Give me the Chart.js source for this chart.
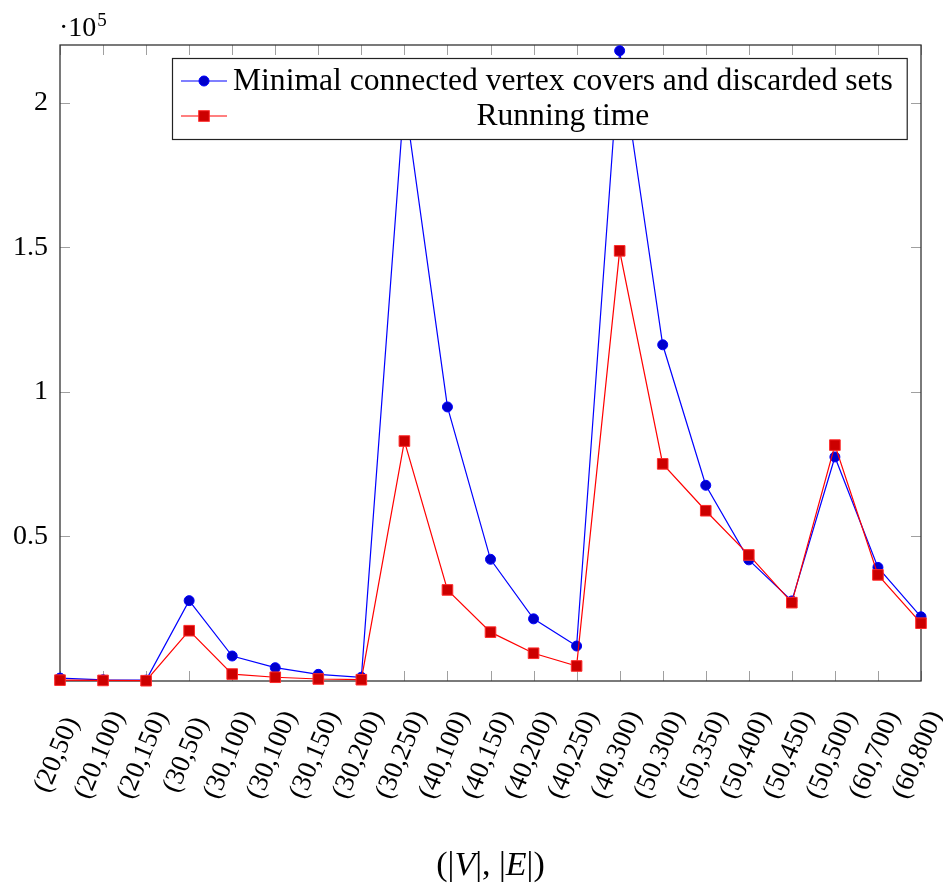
<!DOCTYPE html>
<html>
<head>
<meta charset="utf-8">
<script src="https://cdn.jsdelivr.net/npm/chart.js@4.4.1/dist/chart.umd.min.js"></script>
<style>
  html, body { margin: 0; padding: 0; background: #fff; }
  canvas { display: block; }
</style>
</head>
<body>
<canvas id="chart" width="943" height="891"></canvas>
<script>
// Graph sizes (|V|,|E|) on the horizontal axis
const categories = ['(20,50)', '(20,100)', '(20,150)', '(30,50)', '(30,100)', '(30,100)', '(30,150)',
  '(30,200)', '(30,250)', '(40,100)', '(40,150)', '(40,200)', '(40,250)', '(40,300)', '(50,300)',
  '(50,350)', '(50,400)', '(50,450)', '(50,500)', '(60,700)', '(60,800)'];

// Number of minimal connected vertex covers plus discarded sets
const coverCounts = [1000, 400, 300, 27800, 8650, 4600, 2300, 1300, 202000, 94800, 42100, 21500,
  12100, 218000, 116300, 67700, 41900, 27700, 77500, 39300, 22200];

// Running time
const runningTime = [300, 200, 100, 17400, 2400, 1300, 700, 450, 83000, 31500, 16900, 9600,
  5200, 148800, 75100, 58900, 43600, 27100, 81600, 36700, 20000];

const yTickValues = [50000, 100000, 150000, 200000];
const yTickLabels = ['0.5', '1', '1.5', '2'];
const yMax = 220000;
const seriesNames = ['Minimal connected vertex covers and discarded sets', 'Running time'];
// x-axis title pieces: [text, italic]
const axisTitleParts = [['(|', false], ['V', true], ['|, |', false], ['E', true], ['|)', false]];

const SERIF = '"Liberation Serif", "Times New Roman", serif';
const BLUE = '#0000ff', BLUE_FILL = '#0000cc';
const RED = '#ff0000', RED_FILL = '#cc0000';

function drawCircle(ctx, x, y) {
  ctx.beginPath();
  ctx.arc(x, y, 5, 0, Math.PI * 2);
  ctx.fillStyle = BLUE_FILL; ctx.fill();
  ctx.lineWidth = 1; ctx.strokeStyle = BLUE; ctx.stroke();
}
function drawSquare(ctx, x, y) {
  const h = 5.3;
  ctx.fillStyle = RED_FILL;
  ctx.fillRect(x - h, y - h, 2 * h, 2 * h);
  ctx.lineWidth = 1; ctx.strokeStyle = '#ff2a2a';
  ctx.strokeRect(x - h, y - h, 2 * h, 2 * h);
}

// Box frame with inward ticks on all four sides (drawn under the data)
const pgfFrame = {
  id: 'pgfFrame',
  beforeDatasetsDraw(chart) {
    const { ctx, chartArea: a, scales: { x, y } } = chart;
    ctx.save();
    ctx.strokeStyle = '#a0a0a0';
    ctx.lineWidth = 1;
    ctx.beginPath();
    categories.forEach((_, i) => {
      const px = Math.round(x.getPixelForValue(i)) + 0.5;
      ctx.moveTo(px, a.bottom); ctx.lineTo(px, a.bottom - 10);
      ctx.moveTo(px, a.top); ctx.lineTo(px, a.top + 10);
    });
    yTickValues.forEach(v => {
      const py = Math.round(y.getPixelForValue(v)) + 0.5;
      ctx.moveTo(a.left, py); ctx.lineTo(a.left + 10, py);
      ctx.moveTo(a.right, py); ctx.lineTo(a.right - 10, py);
    });
    ctx.stroke();
    ctx.strokeStyle = '#333';
    ctx.lineWidth = 1.3;
    ctx.strokeRect(a.left, a.top, a.right - a.left, a.bottom - a.top);
    ctx.restore();
  },
  afterDatasetsDraw(chart) {
    const { ctx, chartArea: a, scales: { x } } = chart;
    ctx.save();

    // legend box
    const legendFont = '31.6px ' + SERIF;
    ctx.font = legendFont;
    const textW = Math.max(...seriesNames.map(t => ctx.measureText(t).width));
    const boxL = 172, boxT = 58;
    const textL = boxL + 61;
    const boxR = textL + textW + 14;
    const boxB = boxT + 81;
    ctx.fillStyle = '#fff';
    ctx.fillRect(boxL, boxT, boxR - boxL, boxB - boxT);
    ctx.strokeStyle = '#222';
    ctx.lineWidth = 1.2;
    ctx.strokeRect(boxL + 0.5, boxT + 0.5, boxR - boxL, boxB - boxT);

    const rows = [boxT + 23, boxT + 58];
    const colors = [BLUE, RED];
    rows.forEach((ry, i) => {
      ctx.strokeStyle = colors[i];
      ctx.lineWidth = 1.2;
      ctx.beginPath();
      ctx.moveTo(boxL + 9, ry); ctx.lineTo(boxL + 55, ry);
      ctx.stroke();
      if (i === 0) drawCircle(ctx, boxL + 32, ry); else drawSquare(ctx, boxL + 32, ry);
      ctx.fillStyle = '#000';
      ctx.font = legendFont;
      ctx.textBaseline = 'middle';
      ctx.textAlign = 'center';
      ctx.fillText(seriesNames[i], textL + textW / 2, ry + 1);
    });

    // rotated category labels
    ctx.font = '27px ' + SERIF;
    ctx.fillStyle = '#000';
    ctx.textAlign = 'center';
    ctx.textBaseline = 'middle';
    const ang = -67 * Math.PI / 180;
    categories.forEach((lab, i) => {
      const px = x.getPixelForValue(i);
      ctx.save();
      ctx.translate(px - 3, a.bottom + 74);
      ctx.rotate(ang);
      ctx.fillText(lab, 0, 0);
      ctx.restore();
    });

    // x-axis title
    ctx.textAlign = 'left';
    ctx.textBaseline = 'alphabetic';
    const fontFor = it => (it ? 'italic ' : '') + '34px ' + SERIF;
    let total = 0;
    axisTitleParts.forEach(([t, it]) => { ctx.font = fontFor(it); total += ctx.measureText(t).width; });
    let cx = (a.left + a.right) / 2 - total / 2;
    axisTitleParts.forEach(([t, it]) => {
      ctx.font = fontFor(it);
      ctx.fillText(t, cx, 875);
      cx += ctx.measureText(t).width;
    });

    // scale factor above the y axis
    ctx.font = '28px ' + SERIF;
    ctx.fillText('\u00b710', 59, 36);
    const w = ctx.measureText('\u00b710').width;
    ctx.font = '19px ' + SERIF;
    ctx.fillText('5', 59 + w + 1, 26);
    ctx.restore();
  }
};

new Chart(document.getElementById('chart'), {
  type: 'line',
  data: {
    labels: categories,
    datasets: [
      {
        label: seriesNames[0],
        data: coverCounts,
        borderColor: BLUE,
        borderWidth: 1.2,
        pointStyle: 'circle',
        pointRadius: 5,
        pointBorderWidth: 1,
        pointBackgroundColor: BLUE_FILL,
        pointBorderColor: BLUE,
        tension: 0,
        clip: false,
        order: 1
      },
      {
        label: seriesNames[1],
        data: runningTime,
        borderColor: RED,
        borderWidth: 1.2,
        pointStyle: 'rect',
        pointRadius: 7.5,
        pointBorderWidth: 1,
        pointBackgroundColor: RED_FILL,
        pointBorderColor: '#ff2a2a',
        tension: 0,
        clip: false,
        order: 0
      }
    ]
  },
  options: {
    responsive: false,
    animation: false,
    devicePixelRatio: 1,
    layout: { autoPadding: false, padding: { top: 45, right: 22, left: 0, bottom: 0 } },
    plugins: { legend: { display: false }, tooltip: { enabled: false } },
    events: [],
    scales: {
      x: {
        type: 'category',
        offset: false,
        grid: { display: false },
        border: { display: false },
        ticks: { display: false },
        afterFit: s => { s.height = 210; }
      },
      y: {
        min: 0,
        max: yMax,
        grid: { display: false, drawTicks: false },
        border: { display: false },
        afterBuildTicks: s => { s.ticks = yTickValues.map(v => ({ value: v })); },
        ticks: {
          padding: 12,
          color: '#000',
          font: { family: SERIF, size: 28 },
          callback: v => { const k = yTickValues.indexOf(v); return k >= 0 ? yTickLabels[k] : ''; }
        },
        afterFit: s => { s.width = 60; }
      }
    }
  },
  plugins: [pgfFrame]
});
</script>
</body>
</html>
